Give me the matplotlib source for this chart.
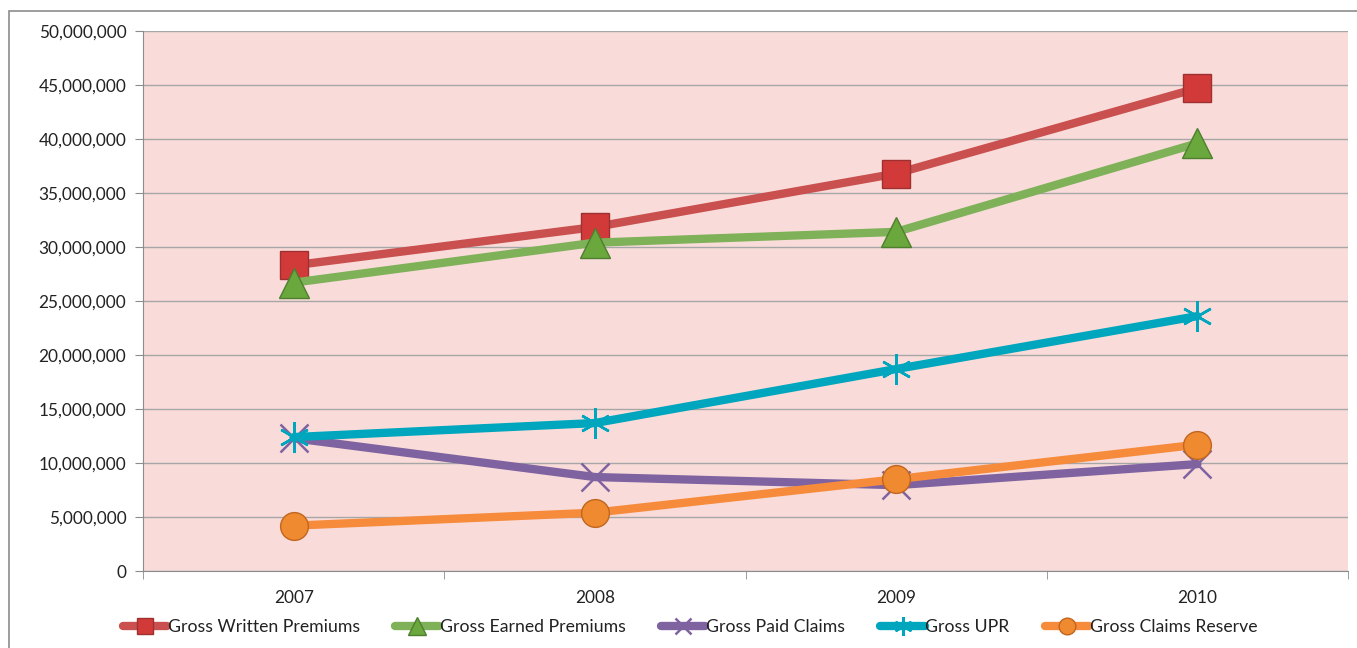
import matplotlib.pyplot as plt
import matplotlib.ticker as mticker
from matplotlib.patches import Rectangle

years = ["2007", "2008", "2009", "2010"]
written = [28.3e6, 31.85e6, 36.8e6, 44.7e6]
earned = [26.7e6, 30.4e6, 31.4e6, 39.6e6]
paid = [12.3e6, 8.7e6, 7.95e6, 9.9e6]
upr = [12.4e6, 13.7e6, 18.7e6, 23.6e6]
reserve = [4.2e6, 5.4e6, 8.5e6, 11.7e6]

plt.rcParams['font.family'] = ['Lato', 'DejaVu Sans']

fig = plt.figure(figsize=(13.57, 6.48), dpi=100)
ax = fig.add_axes([0.1054, 0.1188, 0.888, 0.8334])
fig.patches.append(Rectangle((9 / 1357, -0.01), 1.1, 1 - 11 / 648 + 0.01,
                             transform=fig.transFigure, fill=False,
                             edgecolor="#8c8c8c", linewidth=1.2))

ax.set_facecolor("#F9DCDA")
x = range(len(years))

series = [
    ("Gross Written Premiums", written, "#C9504E", "s", "#D23A3A", "#9E3030", 20),
    ("Gross Earned Premiums", earned, "#7EB158", "^", "#6AA83E", "#4D7F2E", 22),
    ("Gross Paid Claims", paid, "#7F62A0", "x", "#7F62A0", "#7F62A0", 20),
    ("Gross UPR", upr, "#00A6BD", "*", "#00A6BD", "#00A6BD", 22),
    ("Gross Claims Reserve", reserve, "#F68B3C", "o", "#F08A30", "#C0651E", 20),
]

handles = []
for name, vals, col, mk, mfc, mec, ms in series:
    if mk in ("x", "*"):
        mk2 = (6, 2, 0) if mk == "*" else "x"
        h, = ax.plot(x, vals, color=col, linewidth=6, marker=mk2, markersize=ms,
                     markeredgecolor=mec, markeredgewidth=1.8,
                     label=name, solid_capstyle="round", zorder=3)
    else:
        h, = ax.plot(x, vals, color=col, linewidth=6, marker=mk, markersize=ms,
                     markerfacecolor=mfc, markeredgecolor=mec, markeredgewidth=1,
                     label=name, solid_capstyle="round", zorder=3)
    handles.append(h)

ax.set_xlim(-0.5, 3.5)
ax.set_ylim(0, 50e6)
ax.set_yticks([i * 5e6 for i in range(11)])
ax.yaxis.set_major_formatter(mticker.FuncFormatter(lambda v, p: f"{int(v):,}"))
ax.grid(axis="y", color="#A6A6A6", linewidth=1, zorder=0)
ax.set_axisbelow(True)

ax.set_xticks(list(x))
ax.set_xticklabels(years)
ax.set_xticks([-0.5, 0.5, 1.5, 2.5, 3.5], minor=True)
ax.tick_params(axis="x", which="major", length=0, pad=14, labelsize=12.4, colors="#222222")
ax.tick_params(axis="x", which="minor", length=6, color="#8c8c8c")
ax.tick_params(axis="y", length=6, color="#8c8c8c", labelsize=12.4, colors="#222222", pad=6)

for s in ["top", "right"]:
    ax.spines[s].set_visible(False)
for s in ["left", "bottom"]:
    ax.spines[s].set_color("#8c8c8c")

leg = ax.legend(handles=handles, loc="upper center", bbox_to_anchor=(0.454, -0.06),
                ncol=5, frameon=False, fontsize=12.7, handlelength=2.5,
                handletextpad=0.05, columnspacing=2.0, markerscale=0.6)
for t in leg.get_texts():
    t.set_color("#222222")

fig.savefig("out.png", dpi=100)
